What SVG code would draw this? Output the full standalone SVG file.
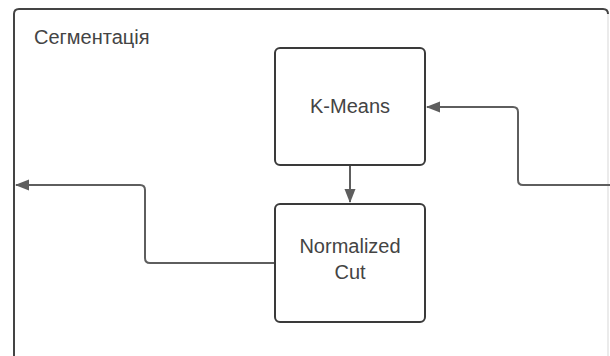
<svg xmlns="http://www.w3.org/2000/svg" width="610" height="356" viewBox="0 0 610 356">
<style>
.box{fill:#fff;stroke:#3a3a3a;stroke-width:2}
.lbl{font-family:"Liberation Sans",Arial,sans-serif;font-size:20px;fill:#444;text-anchor:middle}
.conn{fill:none;stroke:#5e5e5e;stroke-width:2;stroke-linejoin:round}
</style>
<defs>
<marker id="ah" markerWidth="14" markerHeight="12" refX="13" refY="6" orient="auto" markerUnits="userSpaceOnUse">
<path d="M0,0.5 L14,6 L0,11.5 Z" fill="#5e5e5e"/>
</marker>
</defs>
<rect width="610" height="356" fill="#fff"/>
<g id="frame">
<path d="M14,360 V14 Q14,9 19,9 H603 Q608,9 608,14" fill="none" stroke="#444" stroke-width="2"/>
<line x1="608" y1="14" x2="608" y2="356" stroke="#e4e4e4" stroke-width="1.5"/>
<text x="34" y="44" font-family="'Liberation Sans',Arial,sans-serif" font-size="20" fill="#444">Сегментація</text>
</g>
<g id="connectors">
<path class="conn" d="M610,185 H523 Q518,185 518,180 V112 Q518,107 513,107 H427" marker-end="url(#ah)"/>
<path class="conn" d="M350,165 V202" marker-end="url(#ah)"/>
<path class="conn" d="M275,263 H150 Q145,263 145,258 V190 Q145,185 140,185 H16" marker-end="url(#ah)"/>
</g>
<g id="kmeans">
<rect class="box" x="275" y="48" width="150" height="117" rx="5"/>
<text class="lbl" x="350" y="113">K-Means</text>
</g>
<g id="ncut">
<rect class="box" x="275" y="204" width="150" height="118" rx="5"/>
<text class="lbl" x="350" y="253">Normalized</text>
<text class="lbl" x="350" y="279">Cut</text>
</g>
</svg>
